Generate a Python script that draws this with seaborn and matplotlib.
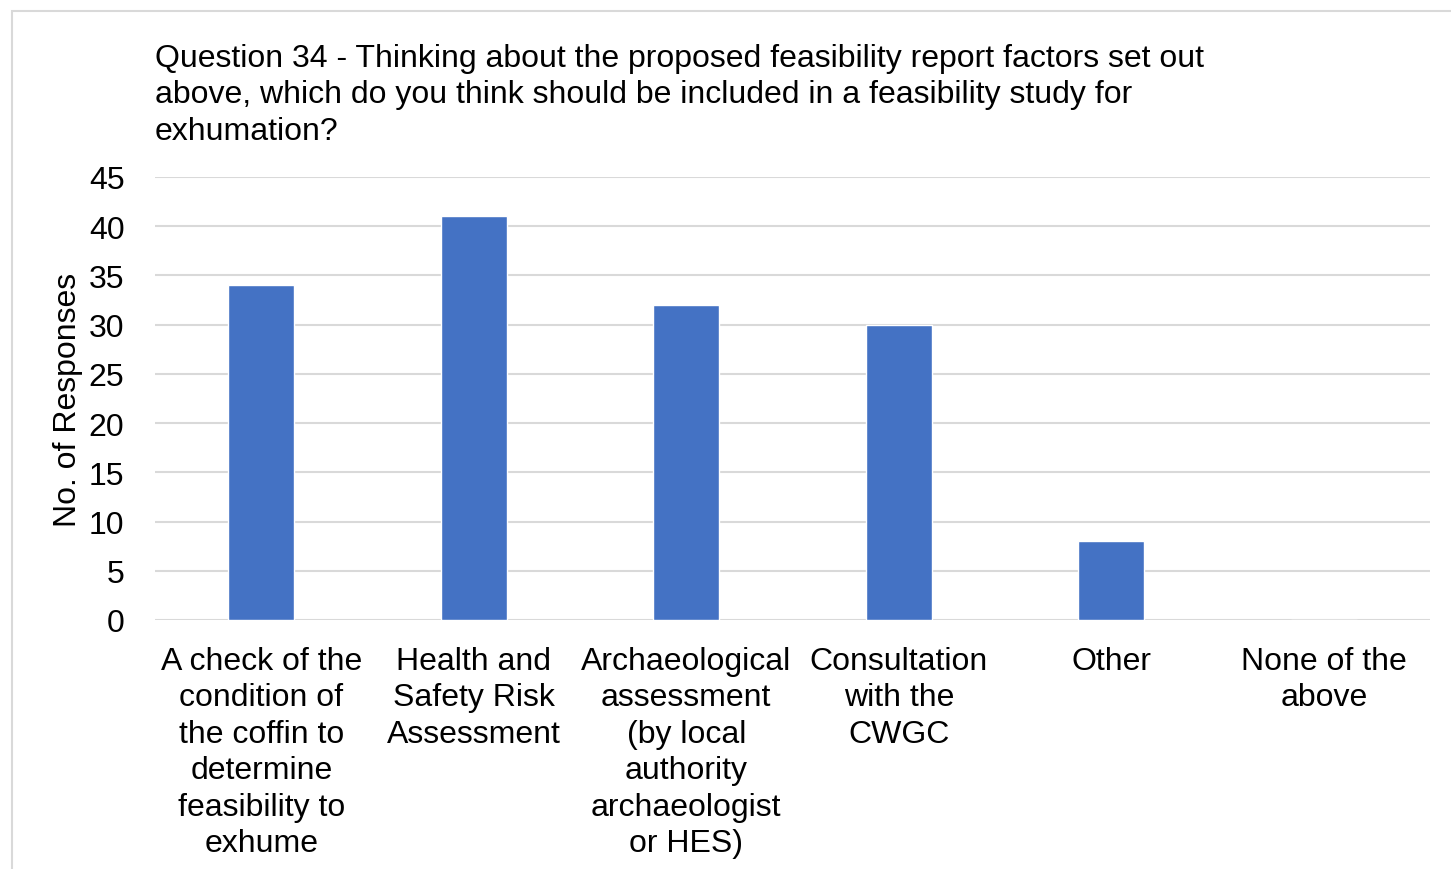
import matplotlib
matplotlib.use("Agg")
import matplotlib.pyplot as plt
import seaborn as sns
import pandas as pd
from matplotlib.patches import Rectangle

categories = [
    "A check of the\ncondition of\nthe coffin to\ndetermine\nfeasibility to\nexhume",
    "Health and\nSafety Risk\nAssessment",
    "Archaeological\nassessment\n(by local\nauthority\narchaeologist\nor HES)",
    "Consultation\nwith the\nCWGC",
    "Other",
    "None of the\nabove",
]
responses = [34, 41, 32, 30, 8, 0]
y_ticks = [0, 5, 10, 15, 20, 25, 30, 35, 40, 45]
title = ("Question 34 - Thinking about the proposed feasibility report factors set out\n"
         "above, which do you think should be included in a feasibility study for\n"
         "exhumation?")

sns.set_theme(style="white")
plt.rcParams["font.family"] = ["Liberation Sans", "DejaVu Sans"]

FS = 23
W, H = 1451, 870
fig = plt.figure(figsize=(W / 100, H / 100), dpi=100)
ax = fig.add_axes([155 / W, 1 - 621 / H, (1430 - 155) / W, (621 - 178) / H])

df = pd.DataFrame({"category": categories, "responses": responses})
sns.barplot(data=df, x="category", y="responses", color="#4472C4",
            width=0.31, saturation=1, ax=ax, zorder=3)

ax.set_ylim(0, 45)
ax.set_yticks(y_ticks)
ax.set_xlim(-0.5, len(categories) - 0.5)
ax.yaxis.grid(True, color="#d9d9d9", linewidth=1.5, zorder=0)
ax.xaxis.grid(False)
for s in ax.spines.values():
    s.set_visible(False)
ax.tick_params(axis="both", length=0, labelsize=FS, colors="#000000")
ax.tick_params(axis="x", pad=18.5)
ax.tick_params(axis="y", pad=22)
for lbl in ax.get_xticklabels():
    lbl.set_linespacing(1.285)
ax.set_xlabel("")
ax.set_ylabel("No. of Responses", fontsize=FS, color="#000000", labelpad=4)

fig.text(155 / W, 1 - 44 / H, title, ha="left", va="top", fontsize=FS,
         linespacing=1.28, color="#000000")

fig.patches.append(Rectangle((12 / W, -0.1), 1.2, 1 - 12 / H + 0.1,
                             transform=fig.transFigure, fill=False,
                             edgecolor="#d9d9d9", linewidth=1.5))

fig.savefig("out.png", dpi=100, facecolor="white")
